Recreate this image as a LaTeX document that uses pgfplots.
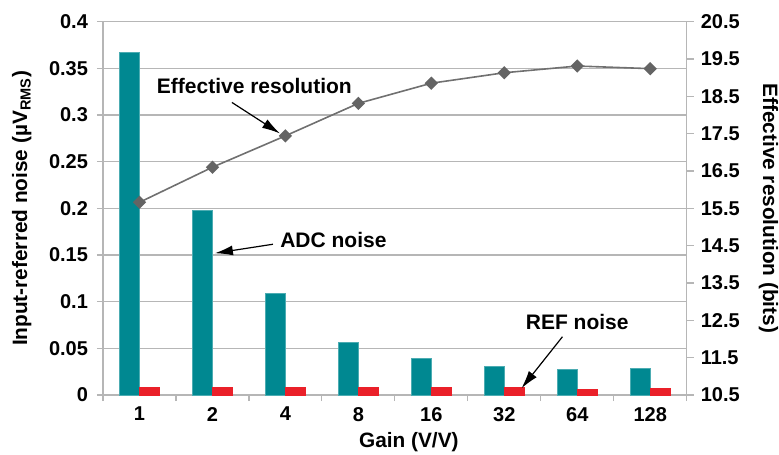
\documentclass[border=0pt]{standalone}
\usepackage{fontspec}
\setmainfont{Liberation Sans}
\usepackage{pgfplots}
\pgfplotsset{compat=1.18}
\usetikzlibrary{arrows.meta}
\definecolor{adcteal}{RGB}{0,136,145}
\definecolor{refred}{RGB}{234,32,41}
\definecolor{lineg}{RGB}{112,112,112}
\definecolor{markg}{RGB}{100,100,100}
\definecolor{gridg}{RGB}{182,182,182}

\pgfplotsset{
  common/.style={
    at={(0,0)}, anchor=south west,
    scale only axis, width=291.85pt, height=186.7pt,
    xmin=0.5, xmax=8.5,
    axis line style={gridg, line width=0.6pt},
    tick style={gridg, line width=0.6pt},
    tick align=outside,
    scaled ticks=false,
    ticklabel style={font=\bfseries\fontsize{10}{11}\selectfont},
    label style={font=\bfseries\fontsize{10.4}{12}\selectfont},
  },
}
\tikzset{note/.style={font=\bfseries\fontsize{10.5}{12}\selectfont},
  callout/.style={-{Latex[length=9pt,width=5pt]}, line width=0.6pt}}

\begin{document}
\begin{tikzpicture}
\path[use as bounding box] (-51.5pt,-29.5pt) rectangle (338pt,197.5pt);

% left axis: noise bars
\begin{axis}[common,
  axis x line*=bottom, axis y line*=left,
  ymin=0, ymax=0.4,
  ytick={0,0.05,0.1,0.15,0.2,0.25,0.3,0.35,0.4},
  yticklabels={0,0.05,0.1,0.15,0.2,0.25,0.3,0.35,0.4},
  ymajorgrids, grid style={gridg, line width=0.6pt},
  major tick length=3pt,
  xtick={1,2,3,4,5,6,7,8}, xticklabels={1,2,4,8,16,32,64,128},
  major x tick style={draw=none},
  minor xtick={0.5,1.5,2.5,3.5,4.5,5.5,6.5,7.5,8.5}, minor tick length=3pt,
  xticklabel style={yshift=0.5pt},
  yticklabel style={xshift=-1pt},
  ylabel={Input-referred noise (µV\textsubscript{RMS})},
  xlabel={Gain (V/V)},
  xlabel style={at={(axis description cs:0.524,-0.126)}, anchor=center},
  ylabel style={at={(axis description cs:-0.139,0.5)}, anchor=center, rotate=0},
  clip=false,
]
% ADC noise
\addplot[ybar, bar width=10pt, bar shift=-5pt, fill=adcteal, draw=adcteal!70!white, line width=0.3pt]
  coordinates {(1,0.367) (2,0.198) (3,0.109) (4,0.056) (5,0.039) (6,0.031) (7,0.027) (8,0.0285)};
% REF noise
\addplot[ybar, bar width=10pt, bar shift=5pt, fill=refred, draw=refred, line width=0.3pt]
  coordinates {(1,0.0078) (2,0.0078) (3,0.0078) (4,0.0078) (5,0.0078) (6,0.0078) (7,0.0064) (8,0.0075)};

\node[note] at (axis cs:2.575,0.3305) {Effective resolution};
\draw[callout] (axis cs:2.267,0.3134) -- (axis cs:2.925,0.2802);
\node[note] at (axis cs:3.658,0.1658) {ADC noise};
\draw[callout] (axis cs:2.829,0.1615) -- (axis cs:2.034,0.1519);
\node[note] at (axis cs:7.0,0.0784) {REF noise};
\draw[callout] (axis cs:6.797,0.0624) -- (axis cs:6.236,0.0072);
\end{axis}

% right axis: effective resolution
\begin{axis}[common,
  axis x line=none, axis y line*=right,
  ymin=10.5, ymax=20.5,
  ytick={10.5,11.5,12.5,13.5,14.5,15.5,16.5,17.5,18.5,19.5,20.5},
  yticklabels={10.5,11.5,12.5,13.5,14.5,15.5,16.5,17.5,18.5,19.5,20.5},
  major tick length=3.5pt,
  ylabel={Effective resolution (bits)},
  ylabel style={at={(axis description cs:1.14,0.5)}, anchor=center, rotate=180},
]
\addplot[lineg, line width=0.8pt, mark=square*, mark size=1.95pt,
  mark options={fill=markg, draw=markg, rotate=45}]
  coordinates {(1,15.66) (2,16.6) (3,17.44) (4,18.31) (5,18.85) (6,19.13) (7,19.31) (8,19.24)};
\end{axis}
\end{tikzpicture}
\end{document}
